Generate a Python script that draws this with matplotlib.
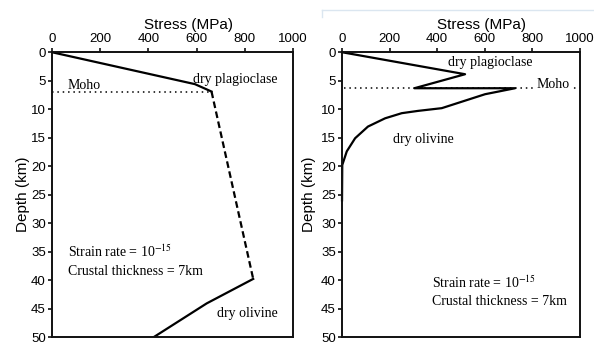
import matplotlib.pyplot as plt
from matplotlib.lines import Line2D

plt.rcParams['font.family'] = ['Liberation Sans', 'DejaVu Sans']
plt.rcParams['mathtext.fontset'] = 'stix'

serif = ['Liberation Serif', 'DejaVu Serif']

# left panel: strength envelope, crust thickness 7 km
left_crust_stress = [0, 593, 662]
left_crust_depth = [0, 5.6, 6.9]
left_dash_stress = [662, 835]
left_dash_depth = [6.9, 39.8]
left_mantle_stress = [835, 642, 423]
left_mantle_depth = [39.8, 44.1, 50]
left_moho = 7.0

# right panel
right_stress = [0, 517, 304, 727, 601, 419, 319, 251, 181, 109, 55, 20, 1, 0]
right_depth = [0, 3.86, 6.32, 6.32, 7.37, 9.82, 10.3, 10.7, 11.6, 13.05, 15.1, 17.4, 19.8, 26]
right_moho = 6.32

xticks = [0, 200, 400, 600, 800, 1000]
yticks = list(range(0, 55, 5))

fig = plt.figure(figsize=(5.94, 3.52), dpi=100)
ax1 = fig.add_axes([0.0875, 0.0426, 0.4057, 0.809])
ax2 = fig.add_axes([0.5758, 0.0426, 0.4007, 0.809])


def style(ax, lab_x, ylab_x):
    ax.set_xlim(0, 1000)
    ax.set_ylim(50, 0)
    ax.xaxis.tick_top()
    ax.set_xticks(xticks)
    ax.set_yticks(yticks)
    ax.tick_params(axis='both', direction='out', length=3, width=1.2, pad=2.5,
                   labelsize=9.5, color='#111111')
    ax.tick_params(axis='y', pad=1.5)
    for s in ax.spines.values():
        s.set_linewidth(1.4)
        s.set_color('#111111')
    ax.text(lab_x, 1.097, 'Stress (MPa)', transform=ax.transAxes,
            ha='center', va='center', fontsize=11)
    ax.text(ylab_x, 0.5, 'Depth (km)', transform=ax.transAxes, rotation=90,
            ha='center', va='center', fontsize=11)


style(ax1, 0.568, -0.122)
style(ax2, 0.587, -0.139)

lw = 1.6
ax1.plot(left_crust_stress, left_crust_depth, color='black', lw=lw)
ax1.plot(left_dash_stress, left_dash_depth, color='black', lw=lw, ls=(0, (3, 1.6)))
ax1.plot(left_mantle_stress, left_mantle_depth, color='black', lw=lw)
ax1.plot([0, 656], [left_moho, left_moho], color='black', lw=1.1, ls=(0, (1, 2.5)))

ax1.text(66, 6.45, 'Moho', family=serif, fontsize=10)
ax1.text(585, 5.4, 'dry plagioclase', family=serif, fontsize=10)
ax1.text(66, 36.0, 'Strain rate = 10$^{-15}$', family=serif, fontsize=10)
ax1.text(66, 39.1, 'Crustal thickness = 7km', family=serif, fontsize=10)
ax1.text(683, 46.4, 'dry olivine', family=serif, fontsize=10)

ax2.plot([10, 1000], [right_moho, right_moho], color='black', lw=1.1,
         ls=(0, (1, 2.5)), zorder=1)
ax2.plot(right_stress, right_depth, color='black', lw=lw, zorder=2, clip_on=False)
ax2.text(818, 6.25, 'Moho', family=serif, fontsize=10,
         bbox=dict(facecolor='white', edgecolor='none', pad=0.5), zorder=3)
ax2.text(447, 2.35, 'dry plagioclase', family=serif, fontsize=10)
ax2.text(216, 16.0, 'dry olivine', family=serif, fontsize=10)
ax2.text(377, 41.4, 'Strain rate = 10$^{-15}$', family=serif, fontsize=10)
ax2.text(377, 44.3, 'Crustal thickness = 7km', family=serif, fontsize=10)

# faint screenshot frame lines at top right
fig.add_artist(Line2D([322 / 594, 1], [1 - 10 / 352, 1 - 10 / 352],
                      color='#dbe6f0', lw=1, transform=fig.transFigure))
fig.add_artist(Line2D([322 / 594, 322 / 594], [1 - 10 / 352, 1 - 17 / 352],
                      color='#dbe6f0', lw=1, transform=fig.transFigure))

fig.savefig('out.png', dpi=100)
